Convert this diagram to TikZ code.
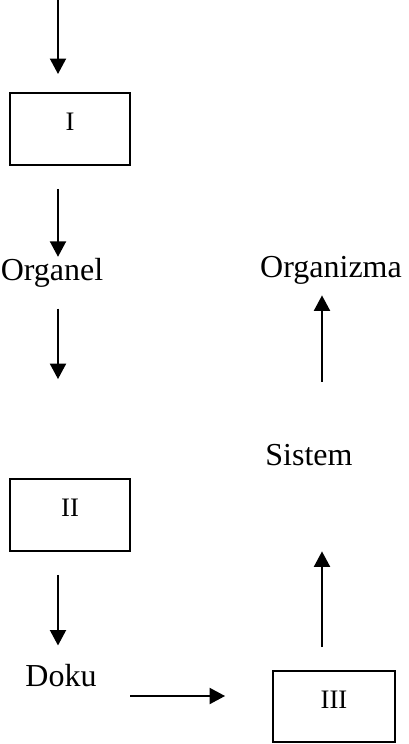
\documentclass[tikz,border=0pt]{standalone}
\usepackage{fontspec}
\setmainfont{Liberation Serif}
\usetikzlibrary{arrows.meta}
\begin{document}
\begin{tikzpicture}[x={(0.375pt,0)}, y={(0,-0.375pt)},
  arr/.style={line width=0.75pt, -{Triangle[width=6pt,length=5.8pt]}},
  box/.style={draw, line width=0.75pt, minimum width=45pt, minimum height=27pt, inner sep=0pt},
  blabel/.style={font=\fontsize{10}{12}\selectfont, yshift=2.6pt},
  word/.style={inner sep=0pt, anchor=base, text height=8pt, text depth=2.5pt, font=\fontsize{12}{14}\selectfont}]
\useasboundingbox (0,0) rectangle (408,744);
\coordinate (top) at (58,0);
\coordinate (rc) at (322,744);
\node[box, label={[blabel]center:I}] (I) at (70,129) {};
\node[word] (org) at (52,280) {Organel};
\node[box, label={[blabel]center:II}] (II) at (70,515) {};
\node[word] (doku) at (61,686) {Doku};
\node[box, minimum width=45.75pt, minimum height=26.6pt, label={[blabel]center:III}] (III) at (334,706.5) {};
\node[word] (sis) at (309,465) {Sistem};
\node[word] (orgz) at (331,277) {Organizma};
% arrows
\draw[arr, shorten >=6.75pt] (top) -- (top |- I.north);
\draw[arr, shorten <=8.6pt, shorten >=0.5pt] (I.south -| top) -- (org.north -| top);
\draw[arr, shorten <=8pt, shorten >=37.1pt] (org.south -| top) -- (II.north -| top);
\draw[arr, shorten <=8.6pt, shorten >=7pt] (II.south -| top) -- (doku.north -| top);
\draw[arr, shorten <=12.4pt, shorten >=17.6pt] ([yshift=-3.75pt]doku.base east) -- ([yshift=-3.75pt]doku.base east -| III.west);
\draw[arr, shorten <=8.6pt, shorten >=29.7pt] (III.north -| rc) -- (sis.south -| rc);
\draw[arr, shorten <=23.1pt, shorten >=4.2pt] (sis.north -| rc) -- (orgz.south -| rc);
\end{tikzpicture}
\end{document}
